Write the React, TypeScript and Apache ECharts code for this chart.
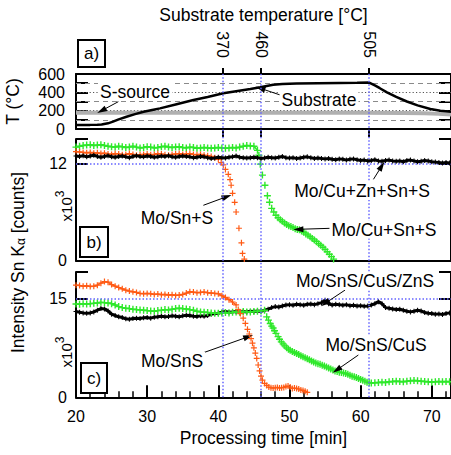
import React, { useEffect, useRef } from 'react';
import * as echarts from 'echarts';

const FONT = '"Liberation Sans", Arial, Helvetica, sans-serif';

// ---------- axes ----------
const timeMin = 20;
const timeMax = 72.7;
const sampleStep = 0.5;
const markerTimes = [40.6, 46, 61.2];
const markerTempLabels = ['370', '460', '505'];
const tempGridDashed = [100, 300, 500];
const tempGridDotted = [200, 400];

// ---------- panel a: temperatures ----------
const substrateTime = [20, 21, 22, 23, 23.6, 24.5, 25.2, 26, 27.1, 28.3, 29.5, 30.7, 31.8, 34, 36.5, 38.5, 40.7, 42.5, 44.5, 45.9, 46.8, 47.7, 49, 51, 54, 57, 59.5, 61.2, 62, 62.7, 63.7, 65, 66.5, 68, 69.8, 71.2, 72.7];
const substrateTemp = [45, 45, 45, 46, 48, 62, 80, 105, 134, 162, 189, 208, 225, 268, 316, 350, 389, 412, 437, 455, 470, 482, 490, 496, 499, 502, 504, 506, 475, 445, 400, 350, 300, 258, 218, 198, 188];
const sourceTime = [20, 30, 40, 50, 60, 66, 69, 71, 72.7];
const sourceTemp = [178, 178, 177, 177, 176, 175, 172, 165, 158];

// ---------- panel b ----------
const bBlackVals = [
  12.9, 12.85, 12.95, 12.8, 12.9, 13.0, 12.85, 12.75, 12.85, 12.95, 12.8,
  12.75, 12.85, 12.9, 12.8, 12.7, 12.85, 12.95, 12.85, 12.8, 12.9,
  12.85, 12.75, 12.8, 12.9, 12.85, 12.95, 12.8, 12.75, 12.85, 12.9,
  12.85, 12.8, 12.7, 12.75, 12.85, 12.8, 12.7, 12.6, 12.65, 12.75,
  12.7, 12.65, 12.75, 12.8, 12.9, 12.75, 12.7, 12.65, 12.7, 12.75,
  12.7, 12.6, 12.65, 12.75, 12.7, 12.65, 12.75, 12.85, 12.7, 12.65,
  12.7, 12.6, 12.65, 12.75, 12.8, 12.7, 12.6, 12.65, 12.6, 12.55,
  12.6, 12.5, 12.45, 12.55, 12.5, 12.4, 12.5, 12.55, 12.45, 12.35,
  12.4, 12.3, 12.35, 12.45, 12.3, 12.25, 12.35, 12.4, 12.3, 12.25,
  12.3, 12.2, 12.35, 12.4, 12.3, 12.2, 12.25, 12.35, 12.3, 12.2,
  12.15, 12.1, 12.05, 12.1, 12.05,
];
const bOrangeVals = [
  13.45, 13.4, 13.35, 13.3, 13.35, 13.25, 13.3, 13.2, 13.25, 13.15,
  13.1, 13.2, 13.15, 13.05, 13.1, 13.2, 13.1, 13.0, 13.05, 13.1,
  13.15, 13.05, 13.1, 13.2, 13.15, 13.05, 13.0, 13.1, 13.15, 13.2,
  13.1, 13.15, 13.2, 13.1, 13.05, 13.1, 13.0, 12.95, 12.85, 12.7,
];
const bOrangeDropTime = [40.0, 40.4, 40.7, 41.0, 41.4, 41.65, 41.8, 42.0, 42.3, 42.5, 42.9, 43.25, 43.4, 43.65];
const bOrangeDropVals = [12.5, 12.1, 11.8, 11.25, 10.64, 10.0, 9.3, 8.3, 7.2, 6.0, 4.0, 2.2, 0.9, 0.2];
const bGreenVals = [
  14.0, 14.1, 14.2, 14.25, 14.3, 14.2, 14.25, 14.3, 14.2, 14.1,
  14.05, 14.0, 14.1, 14.05, 13.95, 14.0, 14.1, 14.0, 13.9, 13.95,
  14.05, 14.0, 13.9, 13.95, 14.05, 14.1, 14.0, 13.95, 14.0, 14.05,
  13.95, 13.9, 14.0, 13.95, 13.85, 13.9, 13.95, 13.9, 13.85, 13.9,
  13.95, 13.9, 13.85, 13.9, 13.95, 13.9, 14.0, 14.1, 14.2, 14.15,
  14.1, 13.6,
];
const bGreenDropTime = [45.7, 45.9, 46.2, 46.55, 46.9, 47.2, 47.5, 47.8, 48.1, 48.4, 48.7, 49.0, 49.3, 49.6, 49.9, 50.2, 50.5, 50.8, 51.1, 51.4, 51.7, 52.0, 52.3, 52.6, 52.9, 53.2, 53.5, 53.8, 54.1, 54.4, 54.7, 55.0, 55.3, 55.6, 55.9, 56.2];
const bGreenDropVals = [13.0, 11.9, 10.55, 9.3, 8.0, 7.2, 6.45, 6.0, 5.6, 5.3, 5.05, 4.85, 4.65, 4.45, 4.3, 4.2, 4.1, 3.95, 3.85, 3.8, 3.65, 3.5, 3.3, 3.15, 2.95, 2.75, 2.55, 2.35, 2.1, 1.9, 1.65, 1.4, 1.1, 0.8, 0.5, 0.2];

// ---------- panel c ----------
const cBlackVals = [
  13.0, 12.9, 12.8, 12.75, 12.8, 12.95, 13.2, 13.45, 13.4, 13.1,
  12.6, 12.4, 12.2, 12.1, 11.9, 11.85, 11.95, 12.0, 11.95, 12.05,
  12.1, 12.0, 12.15, 12.2, 12.3, 12.2, 12.25, 12.35, 12.3, 12.2,
  12.35, 12.45, 12.4, 12.3, 12.25, 12.35, 12.3, 12.4, 12.6, 12.7,
  12.75, 12.9, 13.0, 12.9, 12.95, 13.0, 12.9, 13.0, 12.95, 13.05,
  13.0, 13.1, 13.05, 13.2, 13.35, 13.6, 13.75, 13.7, 13.85, 14.0,
  14.05, 13.95, 14.1, 14.05, 13.95, 14.1, 14.15, 14.05, 14.2, 14.35,
  14.7, 14.2, 14.0, 14.1, 14.05, 13.95, 14.05, 13.9, 13.95, 13.85,
  13.9, 13.8, 13.85, 14.0, 14.2, 14.5, 14.2, 13.6, 13.5, 13.4,
  13.3, 13.35, 13.2, 13.05, 12.95, 13.05, 13.2, 13.1, 12.85, 12.75,
  12.7, 12.6, 12.65, 12.55, 12.7, 12.8,
];
const cOrangeVals = [
  17.0, 16.95, 16.85, 16.9, 16.8, 16.85, 17.0, 17.3, 17.55, 17.45,
  17.1, 16.85, 16.65, 16.45, 16.25, 16.1, 16.0, 15.9, 15.75, 15.7,
  15.75, 15.7, 15.6, 15.65, 15.55, 15.6, 15.5, 15.55, 15.45, 15.5,
  15.6, 15.8, 16.0, 15.95, 15.85, 15.9, 15.95, 15.85, 15.8, 15.75,
  15.7, 15.4, 15.15, 14.8, 14.45, 14.0,
];
const cOrangeDropTime = [42.8, 43.1, 43.5, 43.8, 44.1, 44.35, 44.6, 44.8, 45.0, 45.2, 45.4, 45.6, 45.8, 46.0, 46.2, 46.5, 46.8, 47.1, 47.4, 47.7, 48.0, 48.3, 48.6, 48.9, 49.2, 49.5, 49.8, 50.1, 50.4, 50.7, 51.0, 51.3, 51.6, 51.9, 52.2, 52.5];
const cOrangeDropVals = [13.3, 12.7, 12.0, 11.2, 10.3, 9.6, 8.9, 8.2, 7.5, 6.7, 5.9, 4.9, 4.0, 3.2, 2.6, 2.1, 1.8, 1.55, 1.45, 1.4, 1.45, 1.5, 1.4, 1.45, 1.5, 1.65, 1.7, 1.55, 1.35, 1.4, 1.35, 1.25, 1.1, 1.05, 0.9, 0.75];
const cGreenVals = [
  14.15, 14.1, 14.2, 14.15, 14.2, 14.25, 14.3, 14.4, 14.35, 14.3,
  14.2, 14.0, 13.75, 13.6, 13.5, 13.45, 13.35, 13.3, 13.25, 13.2,
  13.15, 13.1, 13.05, 13.15, 13.2, 13.3, 13.25, 13.35, 13.45, 13.5,
  13.45, 13.4, 13.3, 13.2, 13.05, 12.95, 12.9, 12.85, 12.8, 12.75,
  12.75, 12.8, 12.85, 12.8, 12.9, 12.95, 12.9, 13.0, 12.95, 12.95,
  13.0, 13.05, 13.1, 13.2,
];
const cGreenDropTime = [46.8, 47.05, 47.3, 47.5, 47.7, 47.9, 48.1, 48.4, 48.6, 48.85, 49.1, 49.35, 49.6, 49.85, 50.1, 50.4, 50.7, 51.0, 51.3, 51.6, 51.9, 52.2, 52.5, 52.8, 53.1, 53.4, 53.7, 54.0, 54.3, 54.6, 54.9, 55.2, 55.5, 55.8, 56.1, 56.4, 56.7, 57.0, 57.3, 57.6, 57.9, 58.2, 58.5, 58.8, 59.1, 59.4, 59.7, 60.0, 60.3, 60.6, 60.9, 61.2];
const cGreenDropVals = [12.2, 11.7, 11.2, 10.8, 10.5, 10.1, 9.7, 9.2, 8.8, 8.4, 8.1, 7.8, 7.5, 7.3, 7.15, 6.95, 6.8, 6.65, 6.5, 6.3, 6.15, 6.0, 5.85, 5.7, 5.5, 5.35, 5.2, 5.1, 5.0, 4.85, 4.75, 4.6, 4.45, 4.3, 4.15, 4.0, 3.9, 3.8, 3.75, 3.7, 3.6, 3.5, 3.35, 3.2, 3.1, 3.0, 2.85, 2.7, 2.6, 2.45, 2.3, 2.2];
const cGreenTailStart = 61.5;
const cGreenTailVals = [2.15, 2.2, 2.25, 2.3, 2.25, 2.35, 2.4, 2.45, 2.4, 2.35, 2.45, 2.5, 2.55, 2.5, 2.45, 2.4, 2.35, 2.3, 2.35, 2.4, 2.35, 2.4, 2.35];

// ---------- annotations (data coordinates: from -> to) ----------
const arrowsA = [[[25.95, 298], [23.6, 200]], [[48.7, 371], [45.9, 444]]];
const arrowsB = [[[37.9, 6.83], [41.18, 7.89]], [[61.8, 10.03], [62.97, 11.67]], [[55.7, 3.99], [51.25, 3.87]]];
const arrowsC = [[[57.81, 16.26], [55.0, 14.24]], [[37.67, 6.67], [44.22, 9.18]], [[59.68, 6.41], [56.65, 4.14]]];

const ORANGE = '#ff5a14';
const GREEN = '#2ee82a';
const GRAY = '#b0b0b0';
const BLUE = '#6464ff';
const PLUS = 'path://M4,0H6V4H10V6H6V10H4V6H0V4H4Z';

const regular = (start: number, vals: number[]) => vals.map((v, i) => [start + i * sampleStep, v]);
const zip = (ts: number[], vs: number[]) => ts.map((t, i) => [t, vs[i]]);

const axisLineStyle = { show: true, onZero: false, lineStyle: { color: '#000', width: 2 } };
const tickLabel = { color: '#000', fontSize: 16, fontFamily: FONT };
const nameStyle = { color: '#000', fontSize: 17.5, fontFamily: FONT };

function flatSeries(xi: number, yi: number, data: number[][], color: string, lw: number, size: number, z: number) {
  return {
    type: 'line', xAxisIndex: xi, yAxisIndex: yi, data, symbol: PLUS, symbolSize: size,
    showSymbol: true, lineStyle: { color, width: lw }, itemStyle: { color, borderWidth: 0 },
    silent: true, z,
  };
}
function dropSeries(xi: number, yi: number, data: number[][], color: string, size: number, z: number) {
  return {
    type: 'scatter', xAxisIndex: xi, yAxisIndex: yi, data, symbol: PLUS, symbolSize: size,
    itemStyle: { color, opacity: 1 }, silent: true, z,
  };
}
function arrowSeries(xi: number, yi: number, arrows: number[][][]) {
  return {
    type: 'line', xAxisIndex: xi, yAxisIndex: yi, data: [], silent: true, z: 10,
    markLine: {
      silent: true, animation: false, symbol: ['none', 'path://M5,0L10,16L0,16Z'], symbolSize: [6, 10],
      label: { show: false }, lineStyle: { color: '#000', width: 1, type: 'solid' },
      data: arrows.map(([a, b]) => [{ coord: a }, { coord: b }]),
    },
  };
}

function leftY(grid: number, max: number, interval: number, labels: number[], margin: number, extra: any = {}) {
  return {
    gridIndex: grid, type: 'value', position: 'left', min: 0, max, interval,
    axisLine: axisLineStyle,
    axisTick: { show: true, inside: true, length: 12, lineStyle: { color: '#000', width: 2 } },
    axisLabel: {
      ...tickLabel, margin, showMaxLabel: true,
      formatter: (v: number) => (labels.includes(v) ? String(v) : ''),
    },
    splitLine: { show: false },
    ...extra,
  };
}
function rightY(grid: number, max: number, interval: number) {
  return {
    gridIndex: grid, type: 'value', position: 'right', min: 0, max, interval,
    axisLine: axisLineStyle,
    axisTick: { show: true, inside: true, length: 12, lineStyle: { color: '#000', width: 2 } },
    axisLabel: { show: false }, splitLine: { show: false },
  };
}

export default function App() {
  const ref = useRef<HTMLDivElement>(null);
  useEffect(() => {
    if (!ref.current) return;
    const chart = echarts.init(ref.current, undefined, { renderer: 'svg' });
    const gridBase = { left: 76, right: 0, containLabel: false, outerBoundsMode: 'none' };
    const tempLines = [
      ...tempGridDashed.map((v) => ({ yAxis: v, lineStyle: { color: '#8a8a8a', type: [5, 4], width: 1 } })),
      ...tempGridDotted.map((v) => ({ yAxis: v, lineStyle: { color: '#555', type: [1.2, 2.2], width: 1 } })),
    ];
    const superStyle = { fontSize: 12, fontFamily: FONT, fill: '#000', padding: [0, 0, 12, 0] };
    const option: any = {
      animation: false,
      backgroundColor: '#fff',
      grid: [
        { ...gridBase, top: 74, height: 55 },
        { ...gridBase, top: 139, height: 121.7 },
        { ...gridBase, top: 272, height: 125.3 },
        { ...gridBase, top: 74, height: 323.3 },
      ],
      xAxis: [
        { gridIndex: 0, type: 'value', min: timeMin, max: timeMax, position: 'bottom', axisLine: axisLineStyle, axisTick: { show: false }, axisLabel: { show: false }, splitLine: { show: false } },
        {
          gridIndex: 0, type: 'value', min: timeMin, max: timeMax, position: 'top', axisLine: axisLineStyle,
          axisTick: { show: true, inside: false, length: 6, lineStyle: { color: '#000', width: 2 }, customValues: markerTimes },
          axisLabel: {
            ...tickLabel, rotate: 90, margin: 16, customValues: markerTimes,
            formatter: (v: number) => {
              const i = markerTimes.findIndex((t) => Math.abs(t - v) < 1e-6);
              return i >= 0 ? markerTempLabels[i] : '';
            },
          },
          splitLine: { show: false },
          name: 'Substrate temperature [°C]', nameLocation: 'middle', nameGap: 50, nameTextStyle: nameStyle, nameMoveOverlap: false,
        },
        {
          gridIndex: 0, type: 'value', min: timeMin, max: timeMax, position: 'top', axisLine: { show: false },
          axisTick: { show: true, inside: true, length: 8, lineStyle: { color: '#000', width: 2 }, customValues: markerTimes },
          axisLabel: { show: false }, splitLine: { show: false },
        },
        { gridIndex: 1, type: 'value', min: timeMin, max: timeMax, position: 'bottom', axisLine: axisLineStyle, axisTick: { show: false }, axisLabel: { show: false }, splitLine: { show: false } },
        {
          gridIndex: 2, type: 'value', min: timeMin, max: timeMax, interval: 2, position: 'bottom', axisLine: axisLineStyle,
          axisTick: { show: true, inside: true, length: 6, lineStyle: { color: '#000', width: 1.5 } },
          axisLabel: {
            ...tickLabel, margin: 11, showMaxLabel: true,
            formatter: (v: number) => (Math.abs(v / 10 - Math.round(v / 10)) < 1e-6 ? String(Math.round(v)) : ''),
          },
          splitLine: { show: false },
          name: 'Processing time [min]', nameLocation: 'middle', nameGap: 32, nameTextStyle: nameStyle, nameMoveOverlap: false,
        },
        {
          gridIndex: 2, type: 'value', min: timeMin, max: timeMax, interval: 10, position: 'bottom', axisLine: { show: false },
          axisTick: { show: true, inside: true, length: 12, lineStyle: { color: '#000', width: 2 } },
          axisLabel: { show: false }, splitLine: { show: false },
        },
        { gridIndex: 3, type: 'value', min: timeMin, max: timeMax, show: false },
      ],
      yAxis: [
        leftY(0, 600, 100, [0, 200, 400, 600], 11, {
          name: 'T (°C)', nameLocation: 'middle', nameGap: 54, nameTextStyle: nameStyle, nameMoveOverlap: false,
        }),
        rightY(0, 600, 100),
        leftY(1, 15, 12, [0, 12], 9),
        rightY(1, 15, 12),
        leftY(2, 19, 15, [0, 15], 9),
        rightY(2, 19, 15),
        { gridIndex: 3, type: 'value', min: 0, max: 1, show: false },
      ],
      series: [
        // panel a
        {
          type: 'line', xAxisIndex: 0, yAxisIndex: 0, data: zip(sourceTime, sourceTemp), symbol: 'none',
          lineStyle: { color: GRAY, width: 4 }, silent: true, z: 3,
          markLine: { silent: true, symbol: ['none', 'none'], label: { show: false }, data: tempLines, z: 1 },
        },
        { type: 'line', xAxisIndex: 0, yAxisIndex: 0, data: zip(substrateTime, substrateTemp), symbol: 'none', lineStyle: { color: '#000', width: 2.5 }, silent: true, z: 4 },
        arrowSeries(0, 0, arrowsA),
        // panel b
        flatSeries(3, 2, regular(20, bGreenVals), GREEN, 1.5, 7, 3),
        dropSeries(3, 2, zip(bGreenDropTime, bGreenDropVals), GREEN, 7, 3),
        flatSeries(3, 2, regular(20, bOrangeVals), ORANGE, 1.5, 6, 4),
        dropSeries(3, 2, zip(bOrangeDropTime, bOrangeDropVals), ORANGE, 6, 4),
        {
          ...flatSeries(3, 2, regular(20, bBlackVals), '#000', 3, 5, 5),
          markLine: { silent: true, symbol: ['none', 'none'], label: { show: false }, lineStyle: { color: BLUE, type: [1.5, 2], width: 1.5 }, data: [{ yAxis: 12 }] },
        },
        arrowSeries(3, 2, arrowsB),
        // panel c
        {
          ...flatSeries(4, 4, regular(20, cBlackVals), '#000', 3, 5, 3),
          markLine: { silent: true, symbol: ['none', 'none'], label: { show: false }, lineStyle: { color: BLUE, type: [1.5, 2], width: 1.5 }, data: [{ yAxis: 15 }] },
        },
        flatSeries(4, 4, regular(20, cGreenVals), GREEN, 1.5, 7, 4),
        dropSeries(4, 4, zip(cGreenDropTime, cGreenDropVals), GREEN, 7, 4),
        flatSeries(4, 4, regular(cGreenTailStart, cGreenTailVals), GREEN, 1.5, 7, 4),
        flatSeries(4, 4, regular(20, cOrangeVals), ORANGE, 1.5, 6, 5),
        dropSeries(4, 4, zip(cOrangeDropTime, cOrangeDropVals), ORANGE, 6, 5),
        arrowSeries(4, 4, arrowsC),
        // vertical guide lines across all panels
        {
          type: 'line', xAxisIndex: 6, yAxisIndex: 6, data: [], silent: true, z: 1,
          markLine: {
            silent: true, symbol: ['none', 'none'], label: { show: false },
            lineStyle: { color: BLUE, type: [1.5, 2], width: 1.5 },
            data: markerTimes.map((t) => ({ xAxis: t })),
          },
        },
      ],
      graphic: [
        // panel labels
        { type: 'rect', shape: { x: 78, y: 40, width: 27, height: 27 }, style: { fill: '#fff', stroke: '#000', lineWidth: 2 }, z: 100 },
        { type: 'text', x: 91.5, y: 53.5, style: { text: 'a)', font: `17px ${FONT}`, fill: '#000', align: 'center', verticalAlign: 'middle' }, z: 101 },
        { type: 'rect', shape: { x: 80, y: 227, width: 28, height: 30 }, style: { fill: '#fff', stroke: '#000', lineWidth: 2 }, z: 100 },
        { type: 'text', x: 94, y: 242, style: { text: 'b)', font: `17px ${FONT}`, fill: '#000', align: 'center', verticalAlign: 'middle' }, z: 101 },
        { type: 'rect', shape: { x: 81, y: 363, width: 26, height: 30 }, style: { fill: '#fff', stroke: '#000', lineWidth: 2 }, z: 100 },
        { type: 'text', x: 94, y: 378, style: { text: 'c)', font: `17px ${FONT}`, fill: '#000', align: 'center', verticalAlign: 'middle' }, z: 101 },
        // y names
        {
          type: 'text', x: 17.5, y: 262.5, rotation: Math.PI / 2, z: 100,
          style: {
            text: 'Intensity Sn K{sub|α} [counts]', font: `17.5px ${FONT}`, fill: '#000', align: 'center', verticalAlign: 'middle',
            rich: { sub: { fontSize: 12, fontFamily: FONT, fill: '#000', padding: [7, 0, 0, 0] } },
          },
        },
        { type: 'text', x: 66, y: 206, rotation: Math.PI / 2, z: 100, style: { text: 'x10{sup|3}', font: `15px ${FONT}`, fill: '#000', align: 'center', verticalAlign: 'middle', rich: { sup: superStyle } } },
        { type: 'text', x: 66, y: 352, rotation: Math.PI / 2, z: 100, style: { text: 'x10{sup|3}', font: `15px ${FONT}`, fill: '#000', align: 'center', verticalAlign: 'middle', rich: { sup: superStyle } } },
        // annotation texts
        ...[
          ['S-source', 135, 91.5],
          ['Substrate', 319, 100],
          ['Mo/Sn+S', 177, 218],
          ['Mo/Cu+Zn+Sn+S', 362, 191],
          ['Mo/Cu+Sn+S', 384, 229.5],
          ['Mo/SnS/CuS/ZnS', 365, 281],
          ['Mo/SnS', 172, 361],
          ['Mo/SnS/CuS', 376, 345],
        ].map(([t, x, y]) => ({
          type: 'text', x, y, z: 99,
          style: { text: t, font: `17.5px ${FONT}`, fill: '#000', align: 'center', verticalAlign: 'middle', backgroundColor: '#fff', padding: [0, 2] },
        })),
      ],
    };
    chart.setOption(option);
    return () => chart.dispose();
  }, []);
  return <div ref={ref} style={{ position: 'fixed', left: 0, top: 0, width: 451, height: 455 }} />;
}
